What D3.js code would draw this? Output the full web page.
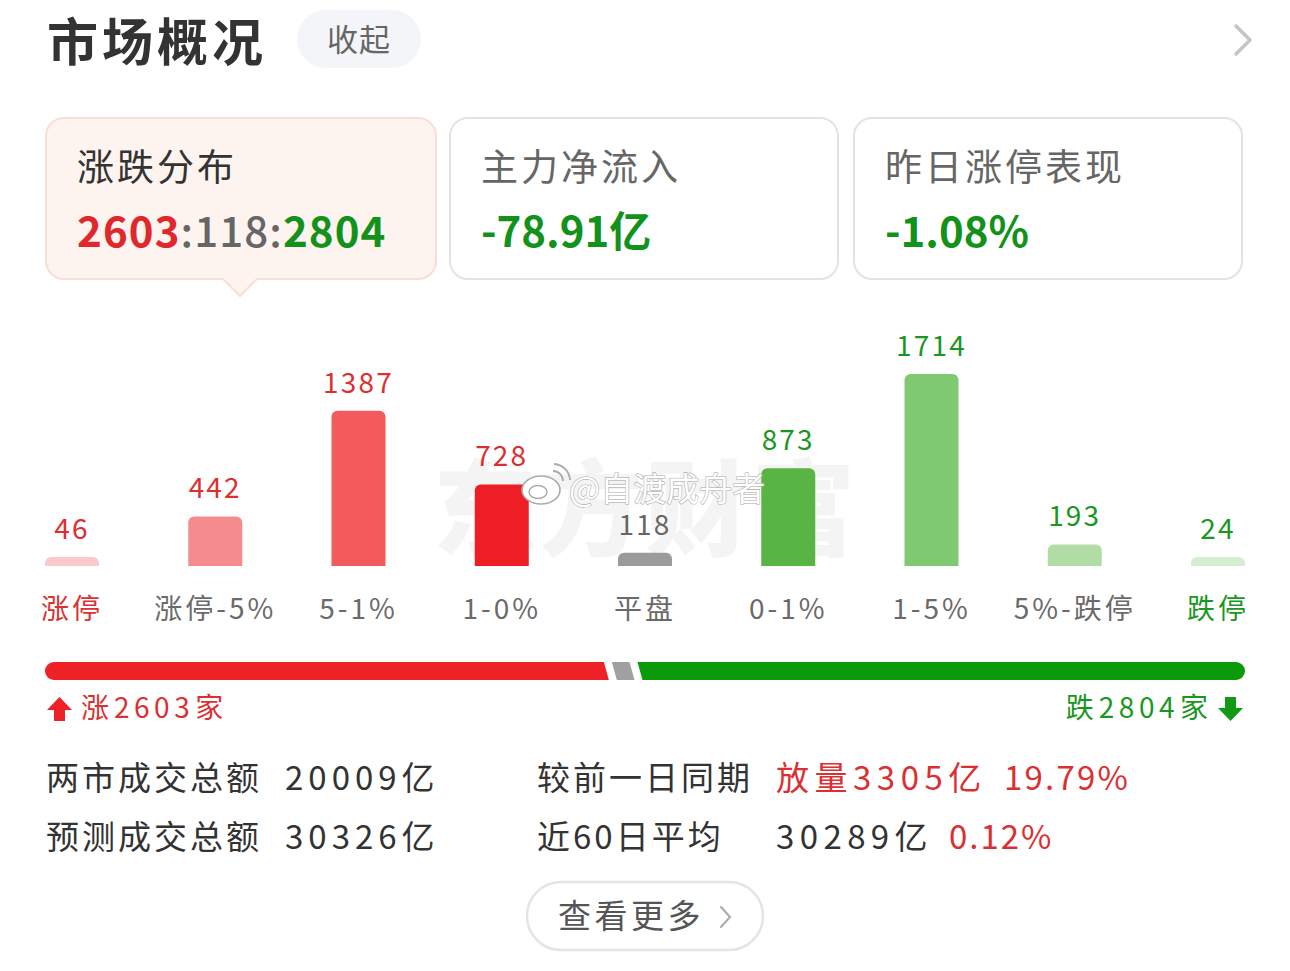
<!DOCTYPE html>
<html><head><meta charset="utf-8">
<script src="https://cdn.jsdelivr.net/npm/d3@7"></script>
<style>
html,body{margin:0;padding:0;background:#fff;}
svg{display:block;font-family:"Noto Sans CJK SC","Noto Sans",sans-serif;}
</style></head>
<body>
<svg id="c" width="1290" height="971"></svg>
<script>
// ---------- data ----------
const title = "市场概况";
const collapseLabel = "收起";
const categories = ["涨停","涨停-5%","5-1%","1-0%","平盘","0-1%","1-5%","5%-跌停","跌停"];
const counts = [46, 442, 1387, 728, 118, 873, 1714, 193, 24];
const categoryTone = ["up","neutral","neutral","neutral","neutral","neutral","neutral","neutral","down"];
const valueTone = ["up","up","up","up","flat","down","down","down","down"];
const cardTitles = ["涨跌分布","主力净流入","昨日涨停表现"];
const cardValues = ["-78.91亿","-1.08%"];
const upCount = 2603, flatCount = 118, downCount = 2804;
const statLabels = ["两市成交总额","预测成交总额"];
const statValues = ["20009亿","30326亿"];
const compareLabels = ["较前一日同期","近60日平均"];
const compareValues = [["放量3305亿","19.79%"],["30289亿","0.12%"]];
const moreLabel = "查看更多";
const watermark = "@自渡成舟者";
const bgMark = "东方财富";

// ---------- styles ----------
const barColors = ["#fbc9cd","#f48c8e","#f35a5c","#ee1f24","#9b9b9b","#58b544","#7fca70","#b2dca6","#d5edd0"];
const toneColor = {up:"#dc2f32", down:"#1a971f", flat:"#666666", neutral:"#6a6a6a"};
const RED = "#ee2127", GREEN = "#0a9a0a", GRAY = "#a0a0a0";

const svg = d3.select("#c");

// header
svg.append("text").attr("x",47).attr("y",61).attr("font-size",51).attr("font-weight",700)
  .attr("fill","#333").attr("letter-spacing",4).text(title);
svg.append("rect").attr("x",297).attr("y",10).attr("width",124).attr("height",58).attr("rx",29).attr("fill","#f3f5f8");
svg.append("text").attr("x",359).attr("y",51).attr("text-anchor","middle").attr("font-size",31)
  .attr("fill","#666").attr("letter-spacing",1).text(collapseLabel);
svg.append("path").attr("d","M1236,26 L1250,40 L1236,54").attr("fill","none").attr("stroke","#c4c4c4").attr("stroke-width",3.5).attr("stroke-linecap","round").attr("stroke-linejoin","round");

// cards
const cardX = [46, 450, 854], cardW = 390, cardY = 118, cardH = 161, cr = 18;
(function(){
  const x=cardX[0], y=cardY, w=cardW, h=cardH, px=240, ph=17, pw=17;
  const p = d3.path();
  p.moveTo(x+cr,y); p.lineTo(x+w-cr,y); p.arcTo(x+w,y,x+w,y+cr,cr);
  p.lineTo(x+w,y+h-cr); p.arcTo(x+w,y+h,x+w-cr,y+h,cr);
  p.lineTo(px+pw,y+h); p.lineTo(px,y+h+ph); p.lineTo(px-pw,y+h);
  p.lineTo(x+cr,y+h); p.arcTo(x,y+h,x,y+h-cr,cr);
  p.lineTo(x,y+cr); p.arcTo(x,y,x+cr,y,cr); p.closePath();
  svg.append("path").attr("d",p.toString()).attr("fill","#fdf3ef").attr("stroke","#f7dfd6").attr("stroke-width",2);
})();
for (let i=1;i<3;i++){
  svg.append("rect").attr("x",cardX[i]).attr("y",cardY).attr("width",cardW-2).attr("height",cardH)
    .attr("rx",cr).attr("fill","#fff").attr("stroke","#e3e3e3").attr("stroke-width",2);
}
cardTitles.forEach((t,i)=>{
  svg.append("text").attr("x",cardX[i]+31).attr("y",181).attr("font-size",37)
    .attr("fill", i===0?"#333":"#666").attr("letter-spacing",3).text(t);
});
const v1 = svg.append("text").attr("x",77).attr("y",247).attr("font-size",42).attr("font-weight",700).attr("letter-spacing",1.1);
v1.append("tspan").attr("fill","#e0272c").text(String(upCount));
v1.append("tspan").attr("fill","#666").attr("font-weight",500).text(":"+flatCount+":");
v1.append("tspan").attr("fill","#13921b").text(String(downCount));
cardValues.forEach((v,i)=>{
  svg.append("text").attr("x",cardX[i+1]+31).attr("y",247).attr("font-size",42).attr("font-weight",700)
    .attr("fill","#13921b").text(v);
});

// background watermark
svg.append("text").attr("x",645).attr("y",548).attr("text-anchor","middle").attr("font-size",104)
  .attr("font-weight",900).attr("fill","#f4f4f4").attr("letter-spacing",2).text(bgMark);

// bars
const x = d3.scalePoint().domain(categories).range([72,1218]);
const y = d3.scaleLinear().domain([0, d3.max(counts)]).range([566, 374]);
const bw = 54, minH = 9, br = 6;
const data = categories.map((c,i)=>({c, v:counts[i], i}));
function barPath(d){
  const h = Math.max(minH, y(0)-y(d.v));
  const x0 = x(d.c)-bw/2, x1 = x(d.c)+bw/2, yb = y(0), yt = yb-h, r = Math.min(br,h);
  const p = d3.path();
  p.moveTo(x0,yb); p.lineTo(x0,yt+r); p.arcTo(x0,yt,x0+r,yt,r);
  p.lineTo(x1-r,yt); p.arcTo(x1,yt,x1,yt+r,r); p.lineTo(x1,yb); p.closePath();
  return p.toString();
}
svg.append("g").selectAll("path").data(data).join("path")
  .attr("d",barPath).attr("fill",d=>barColors[d.i]);
svg.append("g").selectAll("text").data(data).join("text")
  .attr("x",d=>x(d.c)).attr("y",d=>y(0)-Math.max(minH,y(0)-y(d.v))-18)
  .attr("text-anchor","middle").attr("font-size",28).attr("letter-spacing",2.2)
  .attr("fill",d=>toneColor[valueTone[d.i]]).text(d=>d.v);
svg.append("g").selectAll("text").data(data).join("text")
  .attr("x",d=>x(d.c)).attr("y",619).attr("text-anchor","middle").attr("font-size",28).attr("letter-spacing",3)
  .attr("fill",d=>toneColor[categoryTone[d.i]]).text(d=>d.c);

// weibo watermark
const wm = svg.append("g");
wm.append("ellipse").attr("cx",541).attr("cy",490).attr("rx",19).attr("ry",14).attr("fill","#fff").attr("stroke","#aaa").attr("stroke-width",1.6);
wm.append("ellipse").attr("cx",538).attr("cy",492).attr("rx",9).attr("ry",6.5).attr("fill","none").attr("stroke","#aaa").attr("stroke-width",1.4);
wm.append("path").attr("d","M553,471 A10,10 0 0 1 563,481 M554,464 A17,17 0 0 1 570,480").attr("fill","none").attr("stroke","#aaa").attr("stroke-width",1.8);
wm.append("text").attr("x",569).attr("y",501).attr("font-size",33).attr("fill","#fff")
  .attr("stroke","#a8a8a8").attr("stroke-width",1.1).attr("paint-order","stroke").text(watermark);

// ratio bar
const total = upCount + flatCount + downCount;
const rx = d3.scaleLinear().domain([0,total]).range([45,1245]);
const by0 = 662, by1 = 680, sl = 2.5, gap = 4, rr = 9;
const a = rx(upCount), b = rx(upCount+flatCount);
const red = d3.path();
red.moveTo(45+rr,by0); red.lineTo(a-gap-sl,by0); red.lineTo(a-gap+sl,by1); red.lineTo(45+rr,by1);
red.arc(45+rr,(by0+by1)/2,rr,Math.PI/2,Math.PI*1.5); red.closePath();
svg.append("path").attr("d",red.toString()).attr("fill",RED);
svg.append("path").attr("d",`M${a+gap-sl},${by0} L${b-gap-sl},${by0} L${b-gap+sl},${by1} L${a+gap+sl},${by1} Z`).attr("fill",GRAY);
const grn = d3.path();
grn.moveTo(b+gap-sl,by0); grn.lineTo(1245-rr,by0); grn.arc(1245-rr,(by0+by1)/2,rr,-Math.PI/2,Math.PI/2);
grn.lineTo(b+gap+sl,by1); grn.closePath();
svg.append("path").attr("d",grn.toString()).attr("fill",GREEN);

// up / down labels
svg.append("path").attr("d","M59.5,697 L72,710 L65,710 L65,721 L54,721 L54,710 L47,710 Z").attr("fill","#ee2127");
const upT = svg.append("text").attr("x",81).attr("y",718).attr("font-size",28).attr("fill","#dc2f32");
upT.append("tspan").text("涨");
upT.append("tspan").attr("dx",5).attr("letter-spacing",4.5).text(upCount);
upT.append("tspan").attr("dx",1).text("家");
const dnT = svg.append("text").attr("x",1208).attr("y",718).attr("text-anchor","end").attr("font-size",28).attr("fill","#1a971f");
dnT.append("tspan").text("跌");
dnT.append("tspan").attr("dx",5).attr("letter-spacing",4.5).text(downCount);
dnT.append("tspan").attr("dx",1).text("家");
svg.append("path").attr("d","M1230.5,721 L1243,708 L1236,708 L1236,697 L1225,697 L1225,708 L1218,708 Z").attr("fill","#129a16");

// stats
const rowY = [790, 849];
function statText(xp, yp, txt, col, ls){
  svg.append("text").attr("x",xp).attr("y",yp).attr("font-size",33).attr("fill",col).attr("letter-spacing",ls).text(txt);
}
statLabels.forEach((t,i)=>{
  statText(46, rowY[i], t, "#333", 3);
  statText(285, rowY[i], statValues[i], "#333", 5);
  statText(537, rowY[i], compareLabels[i], "#333", 3);
});
statText(776, rowY[0], compareValues[0][0], "#dc2f32", 5.5);
statText(1004, rowY[0], compareValues[0][1], "#dc2f32", 2.2);
statText(776, rowY[1], compareValues[1][0], "#333", 5.4);
statText(949, rowY[1], compareValues[1][1], "#dc2f32", 2);

// more button
svg.append("rect").attr("x",527).attr("y",882).attr("width",236).attr("height",68).attr("rx",34)
  .attr("fill","#fff").attr("stroke","#e4e4e4").attr("stroke-width",2.5);
svg.append("text").attr("x",558).attr("y",928).attr("font-size",33).attr("fill","#555").attr("letter-spacing",3.5).text(moreLabel);
svg.append("path").attr("d","M721,907 L730,917 L721,927").attr("fill","none").attr("stroke","#aaa").attr("stroke-width",2).attr("stroke-linecap","round").attr("stroke-linejoin","round");
</script>
</body></html>
